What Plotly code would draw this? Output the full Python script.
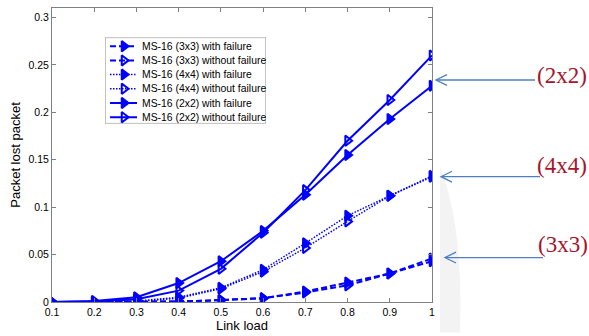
import plotly.graph_objects as go

link_load = [0.1, 0.2, 0.3, 0.4, 0.5, 0.6, 0.7, 0.8, 0.9, 1.0]

ms3_fail = [0, 0, 0, 0.0005, 0.002, 0.004, 0.011, 0.0205, 0.030, 0.043]
ms3_nofail = [0, 0, 0, 0.0005, 0.002, 0.004, 0.010, 0.0175, 0.030, 0.046]
ms4_fail = [0, 0, 0.001, 0.005, 0.015, 0.034, 0.062, 0.091, 0.112, 0.133]
ms4_nofail = [0, 0, 0.0005, 0.004, 0.014, 0.032, 0.057, 0.085, 0.112, 0.132]
ms2_fail = [0, 0.001, 0.005, 0.020, 0.043, 0.075, 0.113, 0.155, 0.193, 0.228]
ms2_nofail = [0, 0.0005, 0.003, 0.012, 0.035, 0.073, 0.118, 0.170, 0.213, 0.260]

names = ["MS-16 (3x3) with failure", "MS-16 (3x3) without failure",
         "MS-16 (4x4) with failure", "MS-16 (4x4) without failure",
         "MS-16 (2x2) with failure", "MS-16 (2x2) without failure"]
series = [ms3_fail, ms3_nofail, ms4_fail, ms4_nofail, ms2_fail, ms2_nofail]

y_ticks = [0, 0.05, 0.1, 0.15, 0.2, 0.25, 0.3]
y_tick_text = ["0", "0.05", "0.1", "0.15", "0.2", "0.25", "0.3"]
x_ticks = [0.1, 0.2, 0.3, 0.4, 0.5, 0.6, 0.7, 0.8, 0.9, 1.0]
x_tick_text = ["0.1", "0.2", "0.3", "0.4", "0.5", "0.6", "0.7", "0.8", "0.9", "1"]

labels = ["(2x2)", "(4x4)", "(3x3)"]

BLUE = "#0000ff"
styles = [
    dict(dash="6px,3px", width=2, sym="triangle-right"),
    dict(dash="6px,3px", width=2, sym="triangle-right-open"),
    dict(dash="1.5px,1.5px", width=1.5, sym="triangle-right"),
    dict(dash="1.5px,1.5px", width=1.5, sym="triangle-right-open"),
    dict(dash="solid", width=2, sym="triangle-right"),
    dict(dash="solid", width=2, sym="triangle-right-open"),
]

fig = go.Figure()
for name, ys, st in zip(names, series, styles):
    fig.add_trace(go.Scatter(
        x=link_load, y=ys, name=name, mode="lines+markers", showlegend=False,
        line=dict(color=BLUE, width=st["width"], dash=st["dash"]),
        marker=dict(symbol=st["sym"], size=9, color=BLUE,
                    line=dict(color=BLUE, width=2)),
    ))

# layout geometry (pixels)
L, R, T, B = 52, 157, 7, 31
W, H = 589, 336
PW, PH = W - L - R, H - T - B


def px(x):
    return (x - L) / PW


def py(y):
    return (H - B - y) / PH


# ---- custom legend (drawn in its own pixel-unit axes) ----
LG_X0, LG_X1, LG_Y0, LG_Y1 = 105, 266, 37, 124
row_y = [45.7 + 14.4 * i for i in range(6)]
for name, st, ry in zip(names, styles, row_y):
    fig.add_trace(go.Scatter(
        x=[110, 137], y=[ry, ry], mode="lines", showlegend=False,
        hoverinfo="skip", xaxis="x2", yaxis="y2",
        line=dict(color=BLUE, width=st["width"], dash=st["dash"])))
    fig.add_trace(go.Scatter(
        x=[124], y=[ry], mode="markers", showlegend=False,
        hoverinfo="skip", xaxis="x2", yaxis="y2",
        marker=dict(symbol=st["sym"], size=9, color=BLUE,
                    line=dict(color=BLUE, width=2))))

shapes = []
shapes.append(dict(type="rect", xref="x2", yref="y2", layer="below",
                   x0=LG_X0, x1=LG_X1, y0=LG_Y0, y1=LG_Y1,
                   fillcolor="white", line=dict(color="#888888", width=1)))

# faint watermark crescent on the right
shapes.append(dict(
    type="path", xref="paper", yref="paper", layer="below",
    path=(f"M {px(440)},{py(168)} C {px(456)},{py(210)} {px(462)},{py(260)} "
          f"{px(460)},{py(336)} L {px(440)},{py(336)} Z"),
    fillcolor="#f3f3f3", line=dict(width=0)))

arrow_color = "#4f7fc0"
arrows = [(80, 436, 535), (178, 441, 540), (260, 445, 543)]
for (ay, tip, end) in arrows:
    shapes.append(dict(type="line", xref="paper", yref="paper",
                       x0=px(tip), x1=px(end), y0=py(ay), y1=py(ay),
                       line=dict(color=arrow_color, width=1.3)))
    shapes.append(dict(type="path", xref="paper", yref="paper",
                       path=(f"M {px(tip + 11)},{py(ay - 5.5)} L {px(tip)},{py(ay)} "
                             f"L {px(tip + 11)},{py(ay + 5.5)}"),
                       line=dict(color=arrow_color, width=1.3)))

annotations = []
for name, ry in zip(names, row_y):
    annotations.append(dict(
        text=name, xref="x2", yref="y2", x=139.5, y=ry,
        xanchor="left", yanchor="middle", showarrow=False,
        font=dict(family="Arial", size=10.4, color="black")))

text_pos = [(562, 75), (562, 167), (563, 247)]
for lab, (tx, ty) in zip(labels, text_pos):
    annotations.append(dict(
        text=lab, xref="paper", yref="paper", x=px(tx), y=py(ty),
        xanchor="center", yanchor="middle", showarrow=False,
        font=dict(family="Liberation Serif", size=23, color="#a3162d")))

axis_common = dict(
    showline=True, linecolor="#808080", linewidth=1, mirror="allticks",
    ticks="inside", ticklen=4, tickcolor="#808080", showgrid=False,
    zeroline=False, tickfont=dict(family="Arial", size=10.5, color="black"),
)

fig.update_layout(
    width=W, height=H,
    margin=dict(l=L, r=R, t=T, b=B),
    paper_bgcolor="white", plot_bgcolor="white",
    font=dict(family="Arial", color="black"),
    showlegend=False,
    xaxis=dict(range=[0.1, 1.0], tickvals=x_ticks, ticktext=x_tick_text,
               title=dict(text="Link load", font=dict(size=13), standoff=2),
               **axis_common),
    yaxis=dict(range=[0, 0.31], tickvals=y_ticks, ticktext=y_tick_text,
               title=dict(text="Packet lost packet", font=dict(size=13), standoff=4),
               **axis_common),
    xaxis2=dict(domain=[px(LG_X0), px(LG_X1)], range=[LG_X0, LG_X1],
                anchor="y2", visible=False, fixedrange=True),
    yaxis2=dict(domain=[py(LG_Y1), py(LG_Y0)], range=[LG_Y1, LG_Y0],
                anchor="x2", visible=False, fixedrange=True),
    shapes=shapes, annotations=annotations,
)

fig.write_html("out.html", config={"displayModeBar": False},
               post_script="document.body.style.margin='0';")
